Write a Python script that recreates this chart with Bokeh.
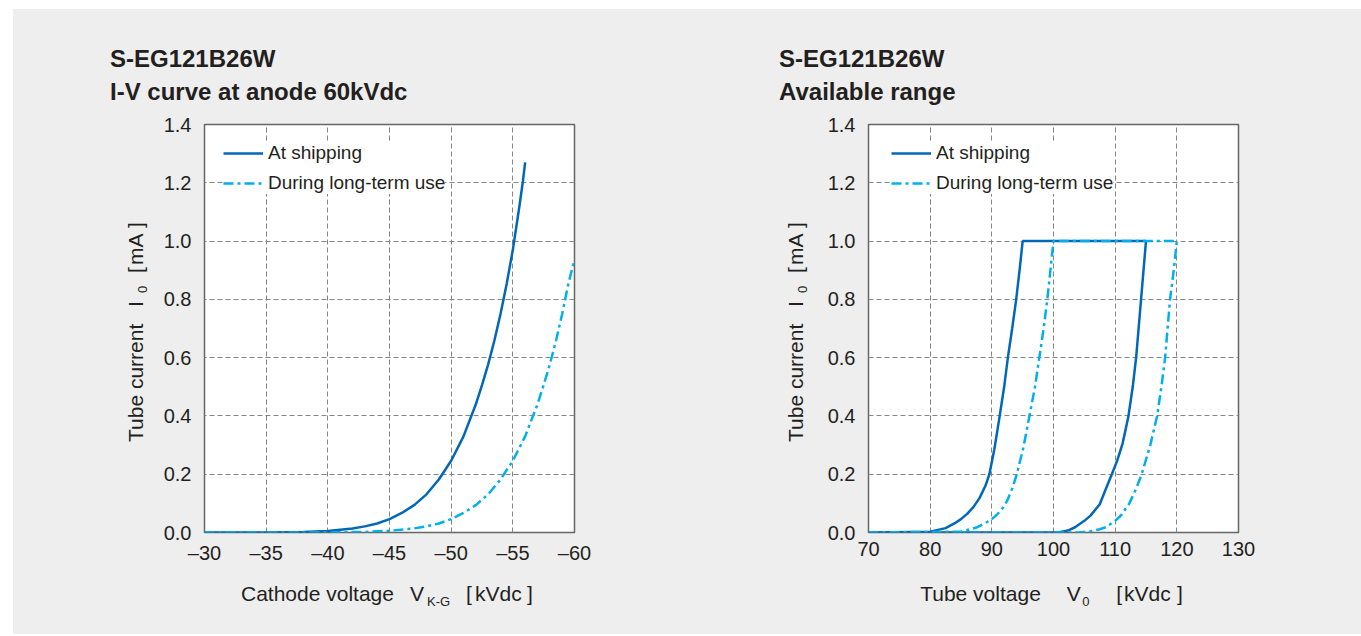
from bokeh.plotting import figure
from bokeh.models import (Range1d, FixedTicker, Legend, LegendItem, Spacer, Div,
                          PrintfTickFormatter)
from bokeh.layouts import row, column
from bokeh.embed import file_html
from bokeh.resources import INLINE

FONT = "Liberation Sans"
TXT = "#231f20"
C_SHIP = "#0068b7"
C_LONG = "#00b0ec"
BG = "#eeeeee"

# ---------------- left chart data ----------------
vkg_ticks = [-30, -35, -40, -45, -50, -55, -60]
vkg_tick_labels = ["\u201330", "\u201335", "\u201340", "\u201345", "\u201350", "\u201355", "\u201360"]
vkg_ship = [-30, -35, -38, -40, -42, -43, -44, -45, -46, -47, -48, -49, -50, -51, -52, -52.5,
            -53, -53.5, -54, -54.5, -55, -55.5, -55.8, -56.0]
ik_ship = [0.0, 0.0003, 0.002, 0.005, 0.014, 0.021, 0.031, 0.046, 0.067, 0.094, 0.131, 0.182,
           0.246, 0.33, 0.44, 0.506, 0.577, 0.658, 0.75, 0.853, 0.97, 1.11, 1.2, 1.27]
vkg_long = [-30, -35, -40, -43, -45, -47, -48, -49, -50, -51, -52, -53, -54, -55, -56, -57,
            -57.5, -58, -58.5, -59, -59.5, -60]
ik_long = [0.0, 0.0, 0.0003, 0.002, 0.006, 0.014, 0.021, 0.031, 0.046, 0.067, 0.094, 0.131,
           0.182, 0.246, 0.33, 0.44, 0.506, 0.577, 0.658, 0.75, 0.853, 0.937]

# ---------------- right chart data ----------------
v0_ticks = [70, 80, 90, 100, 110, 120, 130]
v0_ship = [70, 80, 82.5, 84, 85, 86, 87, 88, 89, 89.6, 90.4, 91.2, 92, 92.6, 93.3, 93.95, 94.5, 95,
           115, 114.6, 114.2, 113.8, 113.4, 112.85, 112.16, 111.2, 110.3, 109.46, 108.5, 107.5,
           106, 105, 103.5, 102.5, 101, 100, 80]
i0_ship = [0.0, 0.003, 0.015, 0.032, 0.046, 0.064, 0.087, 0.118, 0.162, 0.2, 0.285, 0.39, 0.5,
           0.6, 0.7, 0.8, 0.9, 1.0,
           1.0, 0.9, 0.8, 0.7, 0.6, 0.5, 0.4, 0.305, 0.245, 0.2, 0.15, 0.097,
           0.058, 0.04, 0.018, 0.008, 0.001, 0.0, 0.0]
v0_long = [70, 85, 87.5, 89, 90, 91, 92, 92.5, 93.3, 94.05, 95.1, 96.1, 97.0, 97.7, 98.4, 99.0, 99.5, 100,
           120, 119.5, 118.9, 118.5, 118.1, 117.5, 116.8, 115.7, 114.3, 113.4, 112.3, 111, 110,
           108.5, 107.5, 106, 105, 104, 85]
i0_long = [0.0, 0.003, 0.017, 0.033, 0.046, 0.065, 0.09, 0.11, 0.15, 0.2, 0.29, 0.4, 0.5, 0.6,
           0.7, 0.8, 0.9, 1.0,
           1.0, 0.9, 0.8, 0.7, 0.6, 0.5, 0.4, 0.3, 0.2, 0.15, 0.10, 0.06, 0.04,
           0.018, 0.011, 0.004, 0.002, 0.0, 0.0]

i_ticks = [0, 0.2, 0.4, 0.6, 0.8, 1.0, 1.2, 1.4]

titles_left = ["S-EG121B26W", "I-V curve at anode 60kVdc"]
titles_right = ["S-EG121B26W", "Available range"]
legend_labels = ["At shipping", "During long-term use"]
xlabel_left = ["Cathode voltage", "V", "K-G", "[", "kVdc", "]"]
xlabel_right = ["Tube voltage", "V", "0", "[", "kVdc", "]"]
ylabel = ["Tube current", "I", "0", "[", "mA", "]"]

# baseline offsets for line-height == font-size (Liberation Sans metrics)
B = {21: 17.77, 13: 11.0, 24: 20.3}


def span(text, left, top, size, bold=False, rotate=False):
    style = ("position:absolute;left:%.1fpx;top:%.1fpx;font-family:'Liberation Sans',Arial,sans-serif;"
             "font-size:%dpx;line-height:%dpx;white-space:nowrap;color:%s;margin:0;padding:0;"
             % (left, top, size, size, TXT))
    if bold:
        style += "font-weight:bold;"
    if rotate:
        style += "transform-origin:0 0;transform:rotate(-90deg);"
    return '<span style="%s">%s</span>' % (style, text)


def hspan(text, left, baseline, size, bold=False):
    return span(text, left, baseline - B[size], size, bold)


def vspan(text, base_x, start_y, size):
    return span(text, base_x - B[size], start_y, size, rotate=True)


def box(w, h, inner):
    html = ('<div style="position:relative;width:%dpx;height:%dpx;background:%s;overflow:visible;">%s</div>'
            % (w, h, BG, inner))
    return Div(text=html, width=w, height=h, margin=0, styles={"background-color": BG})


def make_fig(x_range, xticks, xoverrides, br, xs1, ys1, xs2, ys2, leg_x):
    p = figure(frame_width=370, frame_height=408, x_range=x_range,
               y_range=Range1d(0, 1.4), output_backend="svg", toolbar_location=None,
               min_border_left=54, min_border_right=br, min_border_top=14,
               min_border_bottom=36)
    p.border_fill_color = BG
    p.background_fill_color = "white"
    p.outline_line_color = "#666666"
    p.outline_line_width = 1.5
    p.xaxis.ticker = FixedTicker(ticks=xticks)
    if xoverrides:
        p.xaxis.major_label_overrides = xoverrides
    p.yaxis.ticker = FixedTicker(ticks=i_ticks)
    p.yaxis.formatter = PrintfTickFormatter(format="%.1f")
    for ax in (p.xaxis[0], p.yaxis[0]):
        ax.axis_line_color = None
        ax.major_tick_line_color = None
        ax.minor_tick_line_color = None
        ax.major_tick_out = 0
        ax.major_tick_in = 0
        ax.major_label_text_font = FONT
        ax.major_label_text_font_size = "20px"
        ax.major_label_text_color = TXT
    p.xaxis.major_label_standoff = 9
    p.yaxis.major_label_standoff = 13
    for g in (p.xgrid[0], p.ygrid[0]):
        g.grid_line_color = "#858585"
        g.grid_line_dash = "5 3"
        g.grid_line_width = 1
    r1 = p.line(xs1, ys1, line_color=C_SHIP, line_width=2.5)
    r2 = p.line(xs2, ys2, line_color=C_LONG, line_width=2.5, line_dash="10 4 3 4")
    leg = Legend(items=[LegendItem(label=legend_labels[0], renderers=[r1]),
                        LegendItem(label=legend_labels[1], renderers=[r2])],
                 location=(leg_x, 338))
    leg.label_text_font = FONT
    leg.label_text_font_size = "19px"
    leg.label_text_color = TXT
    leg.glyph_width = 40
    leg.glyph_height = 20
    leg.label_height = 20
    leg.label_standoff = 5
    leg.spacing = 8
    leg.padding = 5
    leg.margin = 0
    leg.border_line_color = None
    leg.background_fill_color = "white"
    leg.background_fill_alpha = 1.0
    p.add_layout(leg)
    return p


p1 = make_fig(Range1d(-30, -60), vkg_ticks, dict(zip(vkg_ticks, vkg_tick_labels)),
              106, vkg_ship, ik_ship, vkg_long, ik_long, 19)
p2 = make_fig(Range1d(70, 130), v0_ticks, None,
              123, v0_ship, i0_ship, v0_long, i0_long, 23)

# --- title boxes (9..110) ---
t_left = box(667, 101, hspan(titles_left[0], 97, 58, 24, True) + hspan(titles_left[1], 97, 91, 24, True))
t_right = box(681, 101, hspan(titles_right[0], 99, 58, 24, True) + hspan(titles_right[1], 99, 91, 24, True))


# --- y label boxes (110..568) ---
def ybox(w, bx):
    sx = bx + 4
    inner = (vspan(ylabel[0], bx, 332, 21) + vspan(ylabel[1], bx, 197, 21)
             + vspan(ylabel[2], sx, 183, 13) + vspan(ylabel[3], bx, 163, 21)
             + vspan(ylabel[4], bx, 155, 21) + vspan(ylabel[5], bx, 118, 21))
    return box(w, 458, inner)


y_left = ybox(137, 130)
y_right = ybox(134, 123)

# --- x label boxes (568..634) ---
x_left = box(667, 66, hspan(xlabel_left[0], 228, 33, 21) + hspan(xlabel_left[1], 397, 33, 21)
             + hspan(xlabel_left[2], 414, 38, 13) + hspan(xlabel_left[3], 453, 33, 21)
             + hspan(xlabel_left[4], 462, 33, 21) + hspan(xlabel_left[5], 514, 33, 21))
x_right = box(681, 66, hspan(xlabel_right[0], 240.2, 33, 21) + hspan(xlabel_right[1], 386.7, 33, 21)
              + hspan(xlabel_right[2], 402.2, 38, 13) + hspan(xlabel_right[3], 436.3, 33, 21)
              + hspan(xlabel_right[4], 444, 33, 21) + hspan(xlabel_right[5], 497, 33, 21))

left_panel = column(t_left, row(y_left, p1), x_left, styles={"background-color": BG})
right_panel = column(t_right, row(y_right, p2), x_right, styles={"background-color": BG})
layout = column(Spacer(height=9), row(Spacer(width=13), left_panel, right_panel))
open("out.html", "w").write(file_html(layout, INLINE))
